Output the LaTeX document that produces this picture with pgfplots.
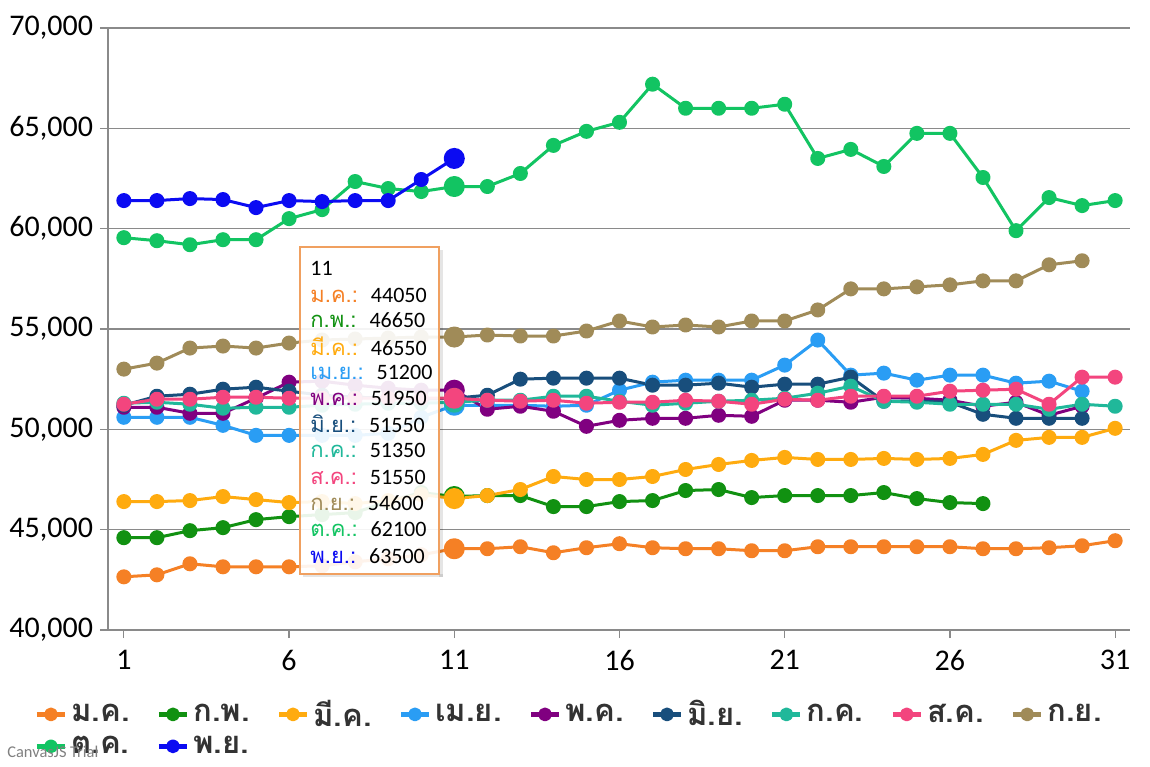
\documentclass[border=0pt]{standalone}
\usepackage{pgfplots}
\pgfplotsset{compat=1.18}
\usepackage{fontspec}
\setmainfont{Carlito}
\newfontfamily\thai[Script=Thai]{Loma}
\definecolor{c1}{HTML}{F58025}
\definecolor{c2}{HTML}{119111}
\definecolor{c3}{HTML}{FFAB0F}
\definecolor{c4}{HTML}{2A9DF4}
\definecolor{c5}{HTML}{800080}
\definecolor{c6}{HTML}{184E7C}
\definecolor{c7}{HTML}{20B89A}
\definecolor{c8}{HTML}{F3457E}
\definecolor{c9}{HTML}{A08B58}
\definecolor{c10}{HTML}{12C462}
\definecolor{c11}{HTML}{0B0BF2}
\definecolor{gridc}{HTML}{8A8A8A}
\definecolor{leggray}{HTML}{333333}
\definecolor{tipb}{HTML}{F0A060}
\begin{document}
\begin{tikzpicture}
\fill[white] (-54pt,-68pt) rectangle (521pt,315pt);
\begin{axis}[
  scale only axis, width=511pt, height=301pt,
  xmin=0.52, xmax=31.45, ymin=40000, ymax=70000,
  xtick={1,6,...,31}, ytick={40000,45000,...,70000},
  scaled y ticks=false,
  yticklabel style={/pgf/number format/fixed, /pgf/number format/1000 sep={,}},
  xticklabel style={yshift=-2.5pt},
  axis x line*=bottom, axis y line*=left,
  axis line style={gridc, line width=0.75pt},
  ymajorgrids, major grid style={gridc, line width=0.75pt},
  tick align=outside, major tick length=4pt,
  tick style={gridc, line width=0.6pt},
  /pgf/number format/assume math mode=true,
  tick label style={font=\fontsize{15}{18}\selectfont, black},
  legend style={
    at={(axis description cs:-0.078,-0.102)}, anchor=north west,
    draw=none, fill=none,
    font=\thai\bfseries\fontsize{15.5}{17}\selectfont,
    text=leggray,
    row sep=-0.5pt,
    /tikz/every even column/.append style={column sep=11.5pt},
  },
  legend columns=9,
  legend cell align=left,
  legend image code/.code={\draw[#1, line width=2.3pt, mark size=2.3pt, mark repeat=2, mark phase=2] plot coordinates {(0pt,0pt) (7pt,0pt) (14pt,0pt)};},
  every axis plot/.append style={line width=1.5pt, mark=*, mark size=3pt, line join=round},
]
\addplot[c1, mark options={fill=c1}] coordinates {(1,42650)(2,42750)(3,43300)(4,43150)(5,43150)(6,43150)(7,43200)(8,43400)(9,43550)(10,43750)(11,44050)(12,44050)(13,44150)(14,43850)(15,44100)(16,44300)(17,44100)(18,44050)(19,44050)(20,43950)(21,43950)(22,44150)(23,44150)(24,44150)(25,44150)(26,44150)(27,44050)(28,44050)(29,44100)(30,44200)(31,44450)};
\addlegendentry{ม.ค.}
\addplot[c2, mark options={fill=c2}] coordinates {(1,44600)(2,44600)(3,44950)(4,45100)(5,45500)(6,45650)(7,45750)(8,45850)(9,46400)(10,46850)(11,46650)(12,46700)(13,46700)(14,46150)(15,46150)(16,46400)(17,46450)(18,46950)(19,47000)(20,46600)(21,46700)(22,46700)(23,46700)(24,46850)(25,46550)(26,46350)(27,46300)};
\addlegendentry{ก.พ.}
\addplot[c3, mark options={fill=c3}] coordinates {(1,46400)(2,46400)(3,46450)(4,46650)(5,46500)(6,46350)(7,46400)(8,46300)(9,46450)(10,46750)(11,46550)(12,46700)(13,47000)(14,47650)(15,47500)(16,47500)(17,47650)(18,48000)(19,48250)(20,48450)(21,48600)(22,48500)(23,48500)(24,48550)(25,48500)(26,48550)(27,48750)(28,49450)(29,49600)(30,49600)(31,50050)};
\addlegendentry{มี.ค.}
\addplot[c4, mark options={fill=c4}] coordinates {(1,50600)(2,50600)(3,50600)(4,50200)(5,49700)(6,49700)(7,49700)(8,49700)(9,49800)(10,50600)(11,51200)(12,51200)(13,51200)(14,51150)(15,51200)(16,51950)(17,52350)(18,52450)(19,52450)(20,52450)(21,53200)(22,54450)(23,52700)(24,52800)(25,52450)(26,52700)(27,52700)(28,52300)(29,52400)(30,51900)};
\addlegendentry{เม.ย.}
\addplot[c5, mark options={fill=c5}] coordinates {(1,51100)(2,51100)(3,50800)(4,50800)(5,51550)(6,52350)(7,52400)(8,52200)(9,52050)(10,51950)(11,51950)(12,51000)(13,51150)(14,50900)(15,50150)(16,50450)(17,50550)(18,50550)(19,50700)(20,50650)(21,51450)(22,51450)(23,51350)(24,51600)(25,51550)(26,51450)(27,51150)(28,51350)(29,50700)(30,51150)};
\addlegendentry{พ.ค.}
\addplot[c6, mark options={fill=c6}] coordinates {(1,51200)(2,51650)(3,51750)(4,52000)(5,52100)(6,51900)(7,51700)(8,51600)(9,51550)(10,51500)(11,51550)(12,51700)(13,52500)(14,52550)(15,52550)(16,52550)(17,52200)(18,52200)(19,52300)(20,52100)(21,52250)(22,52250)(23,52600)(24,51400)(25,51400)(26,51350)(27,50750)(28,50550)(29,50550)(30,50550)};
\addlegendentry{มิ.ย.}
\addplot[c7, mark options={fill=c7}] coordinates {(1,51300)(2,51350)(3,51250)(4,51050)(5,51100)(6,51100)(7,51200)(8,51250)(9,51300)(10,51300)(11,51350)(12,51450)(13,51450)(14,51650)(15,51650)(16,51400)(17,51200)(18,51300)(19,51400)(20,51450)(21,51550)(22,51800)(23,52150)(24,51400)(25,51350)(26,51250)(27,51250)(28,51250)(29,51000)(30,51250)(31,51150)};
\addlegendentry{ก.ค.}
\addplot[c8, mark options={fill=c8}] coordinates {(1,51250)(2,51500)(3,51500)(4,51600)(5,51600)(6,51550)(7,51550)(8,51550)(9,51550)(10,51550)(11,51550)(12,51450)(13,51400)(14,51450)(15,51300)(16,51350)(17,51350)(18,51450)(19,51400)(20,51250)(21,51500)(22,51450)(23,51650)(24,51650)(25,51650)(26,51900)(27,51950)(28,52000)(29,51250)(30,52600)(31,52600)};
\addlegendentry{ส.ค.}
\addplot[c9, mark options={fill=c9}] coordinates {(1,53000)(2,53300)(3,54050)(4,54150)(5,54050)(6,54300)(7,54450)(8,54500)(9,54550)(10,54600)(11,54600)(12,54700)(13,54650)(14,54650)(15,54900)(16,55400)(17,55100)(18,55200)(19,55100)(20,55400)(21,55400)(22,55950)(23,57000)(24,57000)(25,57100)(26,57200)(27,57400)(28,57400)(29,58200)(30,58400)};
\addlegendentry{ก.ย.}
\addplot[c10, mark options={fill=c10}] coordinates {(1,59550)(2,59400)(3,59200)(4,59450)(5,59450)(6,60500)(7,60950)(8,62350)(9,62000)(10,61850)(11,62100)(12,62100)(13,62750)(14,64150)(15,64850)(16,65300)(17,67200)(18,66000)(19,66000)(20,66000)(21,66200)(22,63500)(23,63950)(24,63100)(25,64750)(26,64750)(27,62550)(28,59900)(29,61550)(30,61150)(31,61400)};
\addlegendentry{ต.ค.}
\addplot[c11, mark options={fill=c11}] coordinates {(1,61400)(2,61400)(3,61500)(4,61450)(5,61050)(6,61400)(7,61350)(8,61400)(9,61400)(10,62450)(11,63500)};
\addlegendentry{พ.ย.}
% highlighted points at day 11
\addplot[c1, only marks, mark size=4.5pt, forget plot] coordinates {(11,44050)};
\addplot[c2, only marks, mark size=4.5pt, forget plot] coordinates {(11,46650)};
\addplot[c3, only marks, mark size=4.5pt, forget plot] coordinates {(11,46550)};
\addplot[c4, only marks, mark size=4.5pt, forget plot] coordinates {(11,51200)};
\addplot[c5, only marks, mark size=4.5pt, forget plot] coordinates {(11,51950)};
\addplot[c6, only marks, mark size=4.5pt, forget plot] coordinates {(11,51550)};
\addplot[c7, only marks, mark size=4.5pt, forget plot] coordinates {(11,51350)};
\addplot[c8, only marks, mark size=4.5pt, forget plot] coordinates {(11,51550)};
\addplot[c9, only marks, mark size=4.5pt, forget plot] coordinates {(11,54600)};
\addplot[c10, only marks, mark size=4.5pt, forget plot] coordinates {(11,62100)};
\addplot[c11, only marks, mark size=4.5pt, forget plot] coordinates {(11,63500)};
\end{axis}
% tooltip
\fill[black, opacity=0.10] (97.5pt,26.5pt) rectangle (167.5pt,28pt);
\fill[black, opacity=0.10] (165.5pt,26.5pt) rectangle (167.5pt,190pt);
\draw[tipb, line width=0.6pt, fill=white, fill opacity=0.91] (96pt,28pt) rectangle (165.5pt,191.5pt);
\begin{scope}[every node/.style={anchor=west, inner sep=0pt, font=\fontsize{11}{13}\selectfont}]
\node at (101pt,181pt) {11};
\node at (101pt,167.5pt) {\textcolor{c1}{\thai ม.ค.:}\hspace{6.5pt}44050};
\node at (101pt,155pt) {\textcolor{c2}{\thai ก.พ.:}\hspace{6.5pt}46650};
\node at (101pt,142pt) {\textcolor{c3}{\thai มี.ค.:}\hspace{6.5pt}46550};
\node at (101pt,129pt) {\textcolor{c4}{\thai เม.ย.:}\hspace{6.5pt}51200};
\node at (101pt,116pt) {\textcolor{c5}{\thai พ.ค.:}\hspace{6.5pt}51950};
\node at (101pt,103pt) {\textcolor{c6}{\thai มิ.ย.:}\hspace{6.5pt}51550};
\node at (101pt,90pt) {\textcolor{c7}{\thai ก.ค.:}\hspace{6.5pt}51350};
\node at (101pt,76.5pt) {\textcolor{c8}{\thai ส.ค.:}\hspace{6.5pt}51550};
\node at (101pt,63.5pt) {\textcolor{c9}{\thai ก.ย.:}\hspace{6.5pt}54600};
\node at (101pt,50.5pt) {\textcolor{c10}{\thai ต.ค.:}\hspace{6.5pt}62100};
\node at (101pt,37pt) {\textcolor{c11}{\thai พ.ย.:}\hspace{6.5pt}63500};
\end{scope}
\node[anchor=west, inner sep=0pt, text=gray, font=\fontsize{8.2}{9}\selectfont] at (-50.5pt,-61pt) {CanvasJS Trial};
\pgfresetboundingbox
\path[use as bounding box] (-54pt,-68pt) rectangle (521pt,315pt);
\end{tikzpicture}
\end{document}
